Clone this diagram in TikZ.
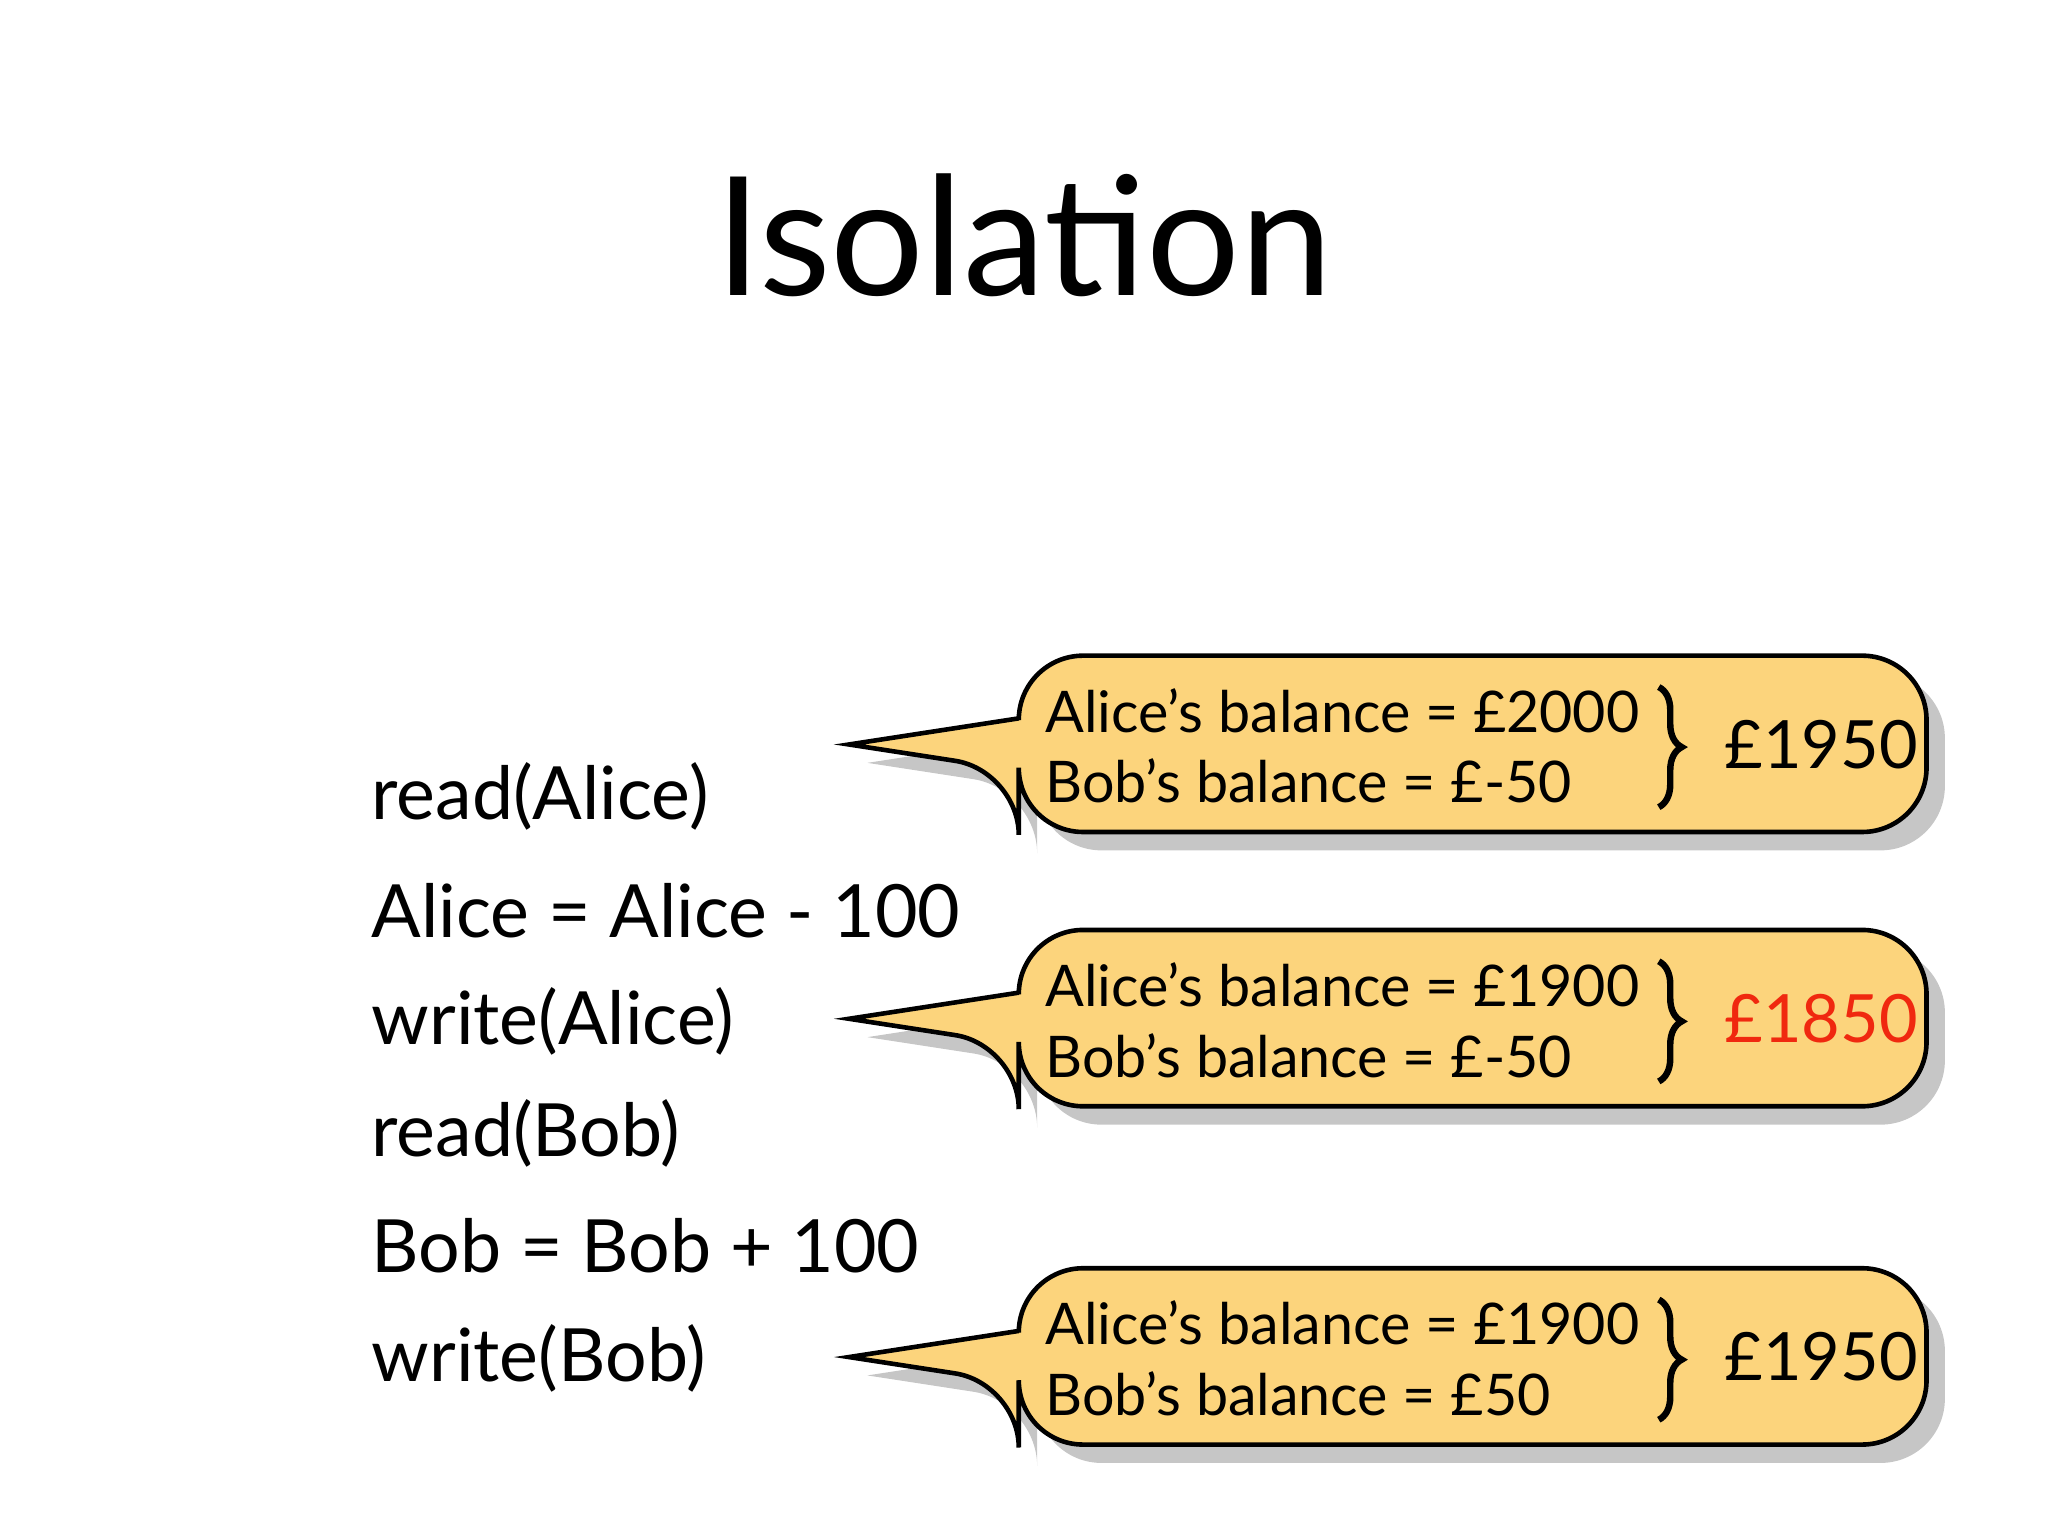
\documentclass[tikz,border=0pt]{standalone}
\usepackage{fontspec}
\setmainfont{Lato}
\usetikzlibrary{decorations.pathreplacing,shadows}
\definecolor{bub}{HTML}{FCD47C}
\definecolor{redt}{HTML}{F0280F}
\tikzset{
 bubble/.style={fill=bub,draw=black,line width=1pt,drop shadow={shadow xshift=4pt,shadow yshift=-4pt,opacity=0.45}},
 code/.style={anchor=west,font=\fontsize{16}{18}\selectfont},
 btext/.style={anchor=west,font=\fontsize{12.5}{14}\selectfont,align=left},
 total/.style={anchor=west,font=\fontsize{14.5}{16}\selectfont},
 br/.style={decorate,decoration={brace,amplitude=5pt},line width=1.4pt}
}
\begin{document}
\begin{tikzpicture}[x=0.01cm,y=-0.01cm]
\useasboundingbox (0,0) rectangle (1568,1176);
\node[font=\fontsize{36}{40}\selectfont] (title) at (784,180) {Isolation};
\node[code] (c1) at (272,610) {read(Alice)};
\node[code] (c2) at (272,697) {Alice = Alice - 100};
\node[code] (c3) at (272,782) {write(Alice)};
\node[code] (c4) at (272,868) {read(Bob)};
\node[code] (c5) at (272,954) {Bob = Bob + 100};
\node[code] (c6) at (272,1040) {write(Bob)};
\foreach \y/\a/\b/\t/\c in {502/£2000/£-50/£1950/black, 712/£1900/£-50/£1850/redt, 971/£1900/£50/£1950/black}{
  \path[bubble,rounded corners=14pt] (780,\y) -- (1475,\y) -- (1475,\y+135) -- (780,\y+135) -- (780,\y+88) [sharp corners]-- (650,\y+68) -- (780,\y+48) [rounded corners=14pt]-- cycle;
  \node[btext] (a\y) at (788,\y+42) {Alice’s balance = \a};
  \node[btext] (b\y) at (788,\y+96) {Bob’s balance = \b};
  \draw[br] (1270,\y+24) -- (1270,\y+116);
  \node[total,text=\c] (t\y) at (1308,\y+68) {\t};
}
\end{tikzpicture}
\end{document}
